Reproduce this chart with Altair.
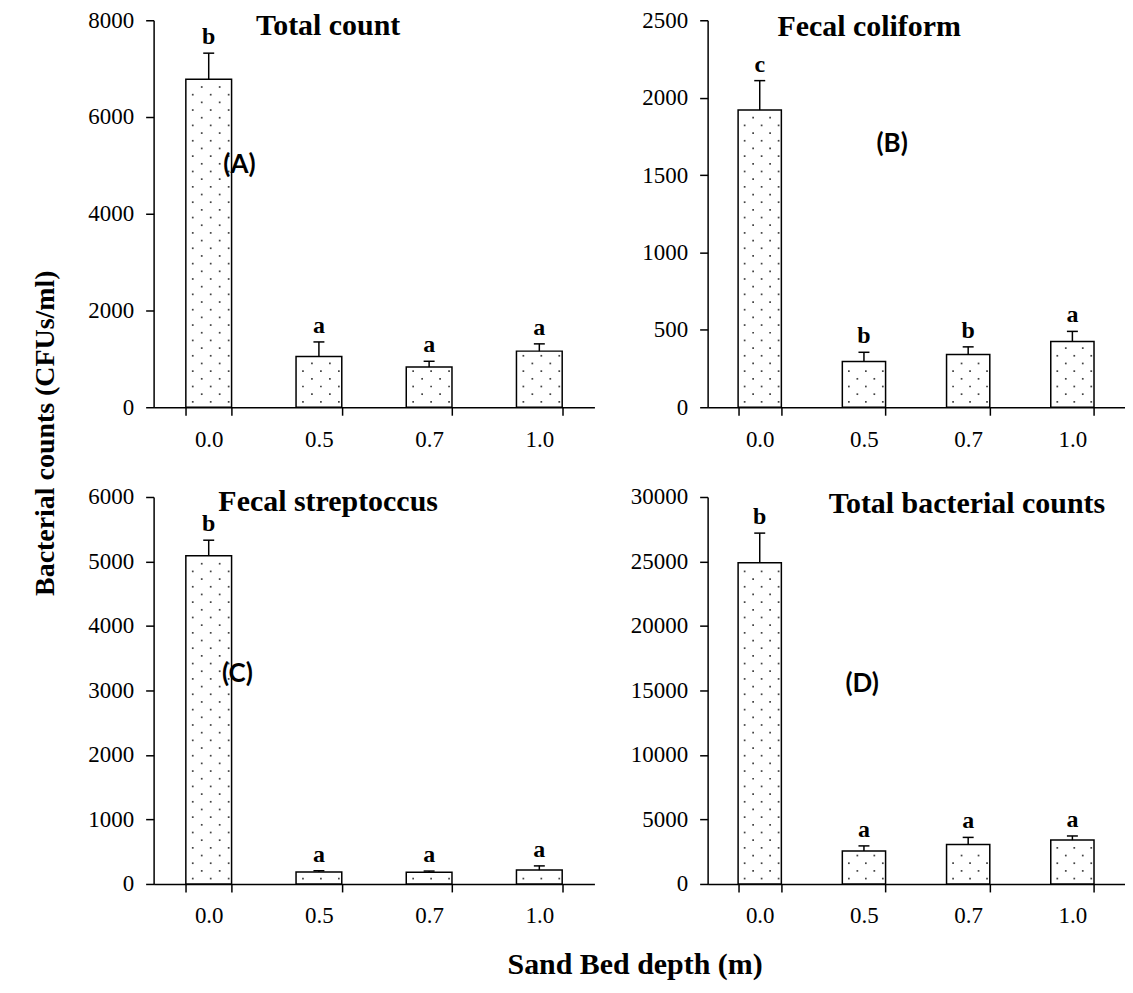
import altair as alt
import pandas as pd

depths = ["0.0", "0.5", "0.7", "1.0"]

# Panel A: Total count
a_mean = [6780, 1050, 830, 1160]
a_err = [540, 300, 120, 150]
a_letters = ["b", "a", "a", "a"]
a_ticks = [0, 2000, 4000, 6000, 8000]

# Panel B: Fecal coliform
b_mean = [1920, 295, 340, 425]
b_err = [190, 60, 50, 65]
b_letters = ["c", "b", "b", "a"]
b_ticks = [0, 500, 1000, 1500, 2000, 2500]

# Panel C: Fecal streptoccus
c_mean = [5090, 185, 180, 215]
c_err = [240, 20, 20, 65]
c_letters = ["b", "a", "a", "a"]
c_ticks = [0, 1000, 2000, 3000, 4000, 5000, 6000]

# Panel D: Total bacterial counts
d_mean = [24900, 2550, 3050, 3400]
d_err = [2300, 400, 560, 320]
d_letters = ["b", "a", "a", "a"]
d_ticks = [0, 5000, 10000, 15000, 20000, 25000, 30000]

SERIF = "Liberation Serif"
SANS = "Lato"
PLOT_H = 388


def panel(mean, err, letters, ticks, width, title, title_xy, label, label_y, label_x):
    ymax = ticks[-1]
    df = pd.DataFrame({"depth": depths, "mean": mean, "err": err, "letter": letters})
    xenc = alt.X(
        "depth:N",
        sort=depths,
        scale=alt.Scale(paddingInner=0.585, paddingOuter=0.2925),
        axis=alt.Axis(
            title=None, labelAngle=0, tickBand="extent", tickSize=8, tickWidth=1.5,
            domainWidth=1.5, domainColor="black", tickColor="black",
            labelPadding=13, labelFont=SERIF, labelFontSize=23, labelColor="black",
        ),
    )
    yscale = alt.Scale(domain=[0, ymax], nice=False, zero=True)
    yaxis = alt.Axis(
        title=None, values=ticks, format="d", grid=False, tickSize=8, tickWidth=1.5,
        domainWidth=1.5, domainColor="black", tickColor="black",
        labelPadding=12, labelFont=SERIF, labelFontSize=23, labelColor="black",
    )

    def Y(field):
        return alt.Y(field, scale=yscale, axis=yaxis)

    base = alt.Chart(df).transform_calculate(top="datum.mean + datum.err")
    bars = base.mark_bar(fill="white", stroke="black", strokeWidth=1.5).encode(
        x=xenc, y=Y("mean:Q")
    )
    step = ymax * 7.7 / PLOT_H
    dots_base = (
        alt.Chart(df)
        .transform_calculate(seq="sequence(0, 80)")
        .transform_flatten(["seq"])
        .transform_calculate(dy=f"(datum.seq + 0.7) * {step}", parity="datum.seq % 2")
        .transform_filter(f"datum.dy < datum.mean - {0.45 * step}")
    )
    f = width / 442.0
    dot_layers = []
    for parity, offs in [(0, [-16, 2, 20]), (1, [-7, 11])]:
        for o in offs:
            dot_layers.append(
                dots_base.transform_filter(f"datum.parity == {parity}")
                .mark_square(size=3, color="#444", opacity=1, xOffset=o * f)
                .encode(x=xenc, y=Y("dy:Q"))
            )
    errs = base.mark_rule(color="black", strokeWidth=1.5).encode(
        x=xenc, y=Y("mean:Q"), y2="top:Q"
    )
    caps = base.mark_tick(color="black", size=11, thickness=1.5, opacity=1).encode(
        x=xenc, y=Y("top:Q")
    )
    lets = base.mark_text(
        font=SERIF, fontSize=24, fontWeight="bold", baseline="alphabetic", dy=-9, color="black"
    ).encode(x=xenc, y=Y("top:Q"), text="letter:N")
    ttl = alt.Chart(pd.DataFrame({"t": [title]})).mark_text(
        font=SERIF, fontSize=30, fontWeight="bold", baseline="middle", align="center", color="black"
    ).encode(text="t:N", x=alt.value(title_xy[0]), y=alt.value(title_xy[1]))
    lab = alt.Chart(pd.DataFrame({"t": [label], "v": [label_y]})).mark_text(
        font=SANS, fontSize=26, fontWeight="bold", baseline="middle", align="center", color="black"
    ).encode(text="t:N", x=alt.value(label_x), y=Y("v:Q"))
    return alt.layer(bars, *dot_layers, errs, caps, lets, ttl, lab).properties(
        width=width, height=PLOT_H
    )


LW = 442
RW = 418
pA = panel(a_mean, a_err, a_letters, a_ticks, LW, "Total count", (175, 6), "(A)", 5000, 86)
pB = panel(b_mean, b_err, b_letters, b_ticks, RW, "Fecal coliform", (162, 7), "(B)", 1700, 185)
pC = panel(c_mean, c_err, c_letters, c_ticks, LW, "Fecal streptoccus", (175, 5), "(C)", 3250, 84)
pD = panel(d_mean, d_err, d_letters, d_ticks, RW, "Total bacterial counts", (260, 7), "(D)", 15500, 155)

grid = alt.concat(pA, pB, pC, pD, columns=2, spacing={"row": 35, "column": 35.5}).properties(
    title=alt.TitleParams(
        "Sand Bed depth (m)", orient="bottom", anchor="middle", font=SERIF, fontSize=30,
        fontWeight="bold", color="black", offset=22, dx=29,
    )
)

ytitle = alt.Chart(pd.DataFrame({"t": ["Bacterial counts (CFUs/ml)"]})).mark_text(
    font=SERIF, fontSize=28, fontWeight="bold", angle=270, baseline="middle", align="center",
    color="black",
).encode(text="t:N", x=alt.value(38), y=alt.value(414)).properties(width=60, height=800)

chart = (
    alt.hconcat(ytitle, grid, spacing=20)
    .properties(padding=0, background="white")
    .configure_view(stroke=None)
)

chart.save("out.html", embed_options={"renderer": "svg", "actions": False})
